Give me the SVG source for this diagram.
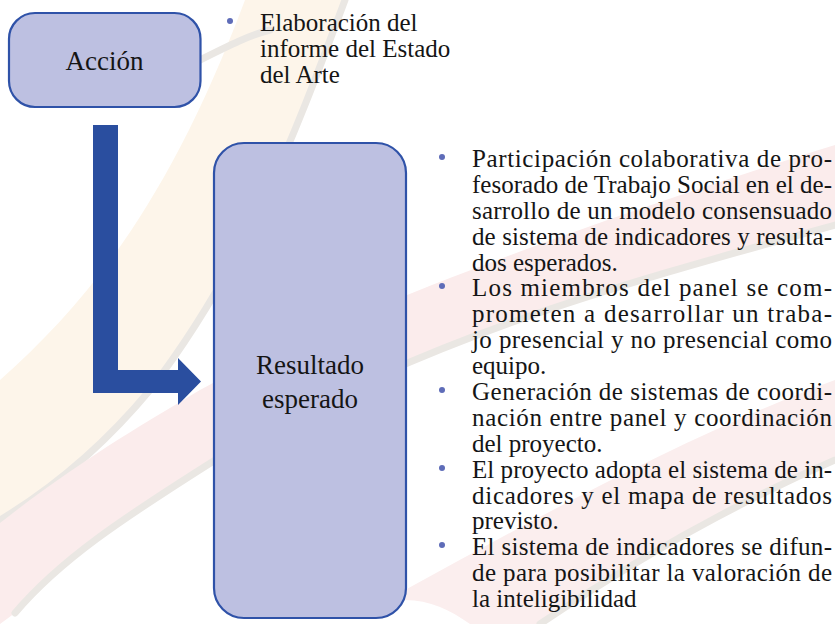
<svg xmlns="http://www.w3.org/2000/svg" width="835" height="624" viewBox="0 0 835 624">
<style>
.box{fill:#BDC0E1;stroke:#2F52A8;stroke-width:2.2}
text{font-family:'Liberation Serif','Times New Roman','DejaVu Serif',serif}
.lbl{font-size:27px;fill:#151515;text-anchor:middle}
.txt{font-size:25px;fill:#151515}
.bul{fill:#5E6CB8}
.wm-edge{fill:none;stroke:#EAE7E3;stroke-width:7;stroke-linecap:round}
</style>
<g id="background">
<rect width="835" height="624" fill="#FFFFFF"/>
<path d="M245,0 L345,0 C300,120 250,260 150,390 C100,450 50,490 0,520 L0,380 C90,300 170,200 245,0 Z" fill="#FDF5EA"/>
<path class="wm-edge" d="M345,0 C300,120 250,260 150,390 C100,450 50,490 0,520"/>
<path class="wm-edge" d="M200,60 C230,45 250,35 270,30"/>
<path d="M0,523 C80,460 150,420 200,390 C300,335 500,250 835,145 L835,225 C600,290 420,340 220,457 C120,520 60,560 15,613 L0,624 Z" fill="#FBECEC"/>
<path class="wm-edge" d="M835,225 C600,290 420,340 220,457 C120,520 60,560 15,613"/>
<path d="M405,590 C550,510 700,430 835,380 L835,460 C720,510 620,570 540,624 L470,624 C450,610 430,600 405,600 Z" fill="#FBEEEE"/>
<path class="wm-edge" d="M835,460 C720,510 620,570 540,624"/>
</g>
<g id="connectors">
<path d="M93,125 L118,125 L118,370 L178,370 L178,358 L201,381.5 L178,405 L178,393 L93,393 Z" fill="#2A4E9F"/>
</g>
<g id="node-accion">
<rect class="box" x="9" y="13" width="191.5" height="94" rx="26" ry="26"/>
<text class="lbl" x="104.5" y="70">Acción</text>
</g>
<g id="node-accion-text">
<circle class="bul" cx="230" cy="21" r="3"/>
<text class="txt" x="260" y="31">Elaboración del</text>
<text class="txt" x="260" y="57">informe del Estado</text>
<text class="txt" x="260" y="83">del Arte</text>
</g>
<g id="node-resultado">
<rect class="box" x="214" y="143" width="192" height="475" rx="30" ry="30"/>
<text class="lbl" x="310" y="374">Resultado</text>
<text class="lbl" x="310" y="408">esperado</text>
</g>
<g id="node-resultado-text">
<circle class="bul" cx="442" cy="157" r="3"/>
<circle class="bul" cx="442" cy="286" r="3"/>
<circle class="bul" cx="442" cy="390" r="3"/>
<circle class="bul" cx="442" cy="468" r="3"/>
<circle class="bul" cx="442" cy="545" r="3"/>
<text class="txt" x="472" y="167" textLength="360" lengthAdjust="spacing">Participación colaborativa de pro-</text>
<text class="txt" x="472" y="193" textLength="360" lengthAdjust="spacing">fesorado de Trabajo Social en el de-</text>
<text class="txt" x="472" y="219" textLength="360" lengthAdjust="spacing">sarrollo de un modelo consensuado</text>
<text class="txt" x="472" y="245" textLength="360" lengthAdjust="spacing">de sistema de indicadores y resulta-</text>
<text class="txt" x="472" y="271">dos esperados.</text>
<text class="txt" x="472" y="296" textLength="360" lengthAdjust="spacing">Los miembros del panel se com-</text>
<text class="txt" x="472" y="322" textLength="360" lengthAdjust="spacing">prometen a desarrollar un traba-</text>
<text class="txt" x="472" y="348" textLength="360" lengthAdjust="spacing">jo presencial y no presencial como</text>
<text class="txt" x="472" y="374">equipo.</text>
<text class="txt" x="472" y="400" textLength="360" lengthAdjust="spacing">Generación de sistemas de coordi-</text>
<text class="txt" x="472" y="426" textLength="360" lengthAdjust="spacing">nación entre panel y coordinación</text>
<text class="txt" x="472" y="452">del proyecto.</text>
<text class="txt" x="472" y="478" textLength="360" lengthAdjust="spacing">El proyecto adopta el sistema de in-</text>
<text class="txt" x="472" y="504" textLength="360" lengthAdjust="spacing">dicadores y el mapa de resultados</text>
<text class="txt" x="472" y="529">previsto.</text>
<text class="txt" x="472" y="555" textLength="360" lengthAdjust="spacing">El sistema de indicadores se difun-</text>
<text class="txt" x="472" y="581" textLength="360" lengthAdjust="spacing">de para posibilitar la valoración de</text>
<text class="txt" x="472" y="607">la inteligibilidad</text>
</g>
</svg>
